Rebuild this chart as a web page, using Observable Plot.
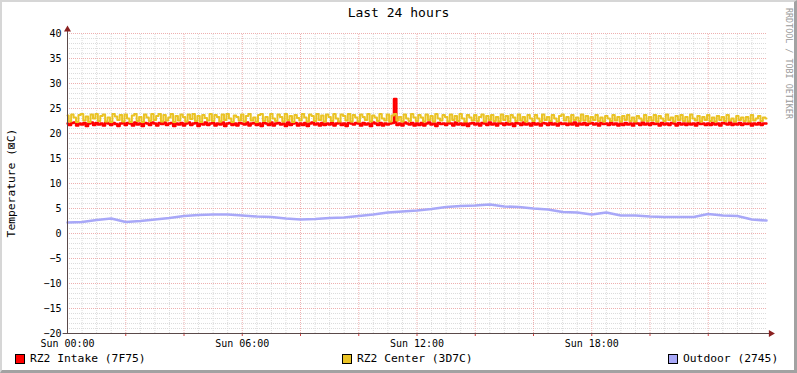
<!DOCTYPE html>
<html><head><meta charset="utf-8">
<script src="https://cdn.jsdelivr.net/npm/d3@7"></script>
<script src="https://cdn.jsdelivr.net/npm/@observablehq/plot@0.6"></script>
<style>
html,body{margin:0;padding:0;background:#fff;}
#frame{position:relative;width:797px;height:373px;background:#fff;overflow:hidden;font-family:"DejaVu Sans Mono",monospace;color:#000;}
#frame::after{content:"";position:absolute;left:0;top:0;width:797px;height:373px;box-sizing:border-box;border-top:2px solid #d6d6d6;border-left:2px solid #d6d6d6;border-right:3px solid #a2a2a2;border-bottom:3px solid #a2a2a2;pointer-events:none;}
#title{position:absolute;top:5px;left:0;width:797px;text-align:center;font-size:13px;line-height:16px;}
#chart{position:absolute;top:22px;left:0;}
#chart svg{background:transparent;overflow:visible;}
#ylabel{position:absolute;left:11px;top:183px;font-size:11.3px;line-height:13px;transform:translate(-50%,-50%) rotate(-90deg);white-space:nowrap;}
#credit{position:absolute;left:784px;top:8px;font-size:8.4px;line-height:10px;color:#9a9a9a;writing-mode:vertical-rl;white-space:nowrap;}
.leg{position:absolute;top:352px;height:13px;font-size:11.3px;line-height:13px;white-space:nowrap;display:flex;align-items:center;}
.sw{display:inline-block;width:8px;height:8px;border:1px solid #000;margin-right:5px;}
</style>
</head><body>
<div id="frame">
  <div id="title"></div>
  <div id="chart"></div>
  <div id="ylabel"></div>
  <div id="credit"></div>
  <div id="legend"></div>
</div>
<script>
const titleText = "Last 24 hours";
const yLabelText = "Temperature (⊠C)";
const creditText = "RRDTOOL / TOBI OETIKER";
const seriesNames = ["RZ2 Intake (7F75)", "RZ2 Center (3D7C)", "Outdoor (2745)"];
const seriesColors = ["#ff0000", "#eac325", "#a8a8f8"];
const legendLeft = [15, 342, 668];

const xDomain = [0, 24];
const yDomain = [-20, 40];
const yTicks = [-20, -15, -10, -5, 0, 5, 10, 15, 20, 25, 30, 35, 40];
const xTickHours = [0, 6, 12, 18];
const xTickLabels = ["Sun 00:00", "Sun 06:00", "Sun 12:00", "Sun 18:00"];

// 5-minute samples, one row per hour (00:00 .. 24:00)
const intakeTemps = [
22.0,21.7,22.1,22.2,21.6,22.0,21.8,22.1,21.5,22.0,22.2,21.7,
22.1,21.8,22.0,21.6,22.2,22.0,21.7,22.1,21.9,21.5,22.0,22.1,
21.7,22.1,22.0,21.6,22.2,21.8,22.0,21.5,22.1,22.0,21.7,22.2,
22.0,21.6,22.1,21.9,22.2,21.7,22.0,22.1,21.5,22.0,21.8,22.1,
21.6,22.0,22.2,21.7,22.0,22.1,21.5,22.0,21.8,22.2,21.7,22.0,
22.1,21.6,22.0,21.8,22.2,21.5,22.0,22.1,21.7,22.0,21.6,22.1,
22.0,21.8,22.2,21.6,22.0,22.1,21.7,22.0,21.5,22.1,22.0,21.7,
22.2,21.6,22.0,22.1,21.8,22.0,21.5,22.2,21.7,22.0,22.1,21.6,
22.0,21.7,22.1,21.5,22.0,22.2,21.8,22.0,21.6,22.1,21.7,22.0,
21.8,22.1,21.6,22.0,22.2,21.7,22.0,21.5,22.1,22.0,21.8,22.1,
22.0,21.6,22.1,21.8,22.0,21.5,22.2,22.0,21.7,22.1,21.6,22.0,
21.8,22.0,22.1,26.9,21.7,22.0,21.6,22.2,22.0,21.8,22.1,21.6,
22.0,21.7,22.1,21.6,22.0,22.2,21.8,22.0,21.5,22.1,21.9,22.0,
21.7,22.1,22.0,21.6,22.2,21.8,22.0,21.7,22.1,21.5,22.0,22.1,
21.8,22.0,21.6,22.1,22.0,21.7,22.2,21.8,22.0,21.6,22.1,22.0,
21.7,22.1,21.8,22.0,21.5,22.1,22.0,21.7,22.2,21.8,22.0,21.6,
22.1,21.8,22.0,21.6,22.1,22.0,21.7,22.2,21.8,22.0,21.6,22.1,
21.9,22.0,21.7,22.1,21.8,22.2,21.6,22.0,21.8,22.1,21.7,22.0,
22.1,21.8,22.0,21.6,22.1,21.9,22.0,21.7,22.2,21.8,22.0,21.6,
22.0,21.7,22.1,21.8,22.0,21.6,22.1,22.0,21.7,22.2,21.8,22.0,
21.7,22.1,21.9,22.0,21.6,22.1,21.8,22.0,21.7,22.1,22.0,21.6,
22.1,21.8,22.0,21.7,22.2,21.8,22.0,21.6,22.1,21.9,22.0,21.7,
22.0,21.7,22.1,21.8,22.0,21.6,22.1,22.0,21.8,22.2,21.7,22.0,
21.8,22.1,21.7,22.0,21.9,22.1,21.6,22.0,21.8,22.1,21.7,22.0,
22.0];

const centerTemps = [
23.6,22.4,23.8,23.2,22.3,23.7,23.9,22.6,23.4,22.3,23.8,23.0,
23.9,22.5,23.5,23.8,22.4,23.2,22.3,23.9,23.4,22.7,23.7,22.4,
23.8,23.0,22.3,23.6,23.9,22.5,23.3,22.3,23.8,23.2,22.5,23.9,
22.7,23.5,23.9,22.4,23.7,22.6,23.2,23.9,22.3,23.5,22.6,23.8,
23.3,22.4,23.8,22.9,23.9,22.5,23.5,22.3,23.7,23.1,22.6,23.9,
22.5,23.7,23.3,22.4,23.8,22.7,23.9,23.0,22.3,23.6,23.3,22.6,
23.8,22.4,23.5,23.9,22.6,23.2,22.3,23.7,23.9,22.5,23.3,22.4,
23.9,23.0,22.5,23.8,23.3,22.4,23.9,22.7,23.5,22.3,23.7,23.1,
22.6,23.9,23.2,22.4,23.8,23.5,22.5,23.9,22.7,23.6,22.4,23.8,
23.3,22.5,23.9,23.0,22.4,23.8,23.5,22.6,23.9,22.4,23.7,23.2,
22.4,23.8,23.3,22.7,23.9,22.4,23.6,23.2,22.5,23.9,23.0,22.6,
23.8,22.4,23.6,23.9,22.6,23.3,22.4,23.8,23.0,22.5,23.9,23.2,
22.5,23.7,23.2,22.4,23.8,22.7,23.5,22.4,23.9,23.0,22.6,23.7,
23.3,22.4,23.8,22.7,23.5,22.5,23.9,23.0,22.4,23.7,23.2,22.6,
23.7,22.5,23.3,23.8,22.4,23.5,22.7,23.7,22.5,23.3,22.4,23.8,
22.7,23.5,22.4,23.7,23.2,22.5,23.8,22.6,23.3,22.4,23.7,23.0,
22.5,23.7,23.0,22.4,23.8,22.7,23.3,22.5,23.7,23.0,22.4,23.5,
23.8,22.6,23.3,22.4,23.7,22.7,23.2,22.5,23.8,22.6,23.5,22.4,
23.3,22.7,23.7,22.5,23.2,22.4,23.5,23.0,22.5,23.7,22.6,23.3,
22.4,23.5,22.7,23.7,22.5,23.2,22.4,23.5,23.0,22.6,23.7,22.5,
23.3,22.6,23.7,22.4,23.5,23.0,22.5,23.8,22.7,23.2,22.4,23.5,
22.7,23.7,22.5,23.3,22.4,23.8,23.0,22.6,23.5,22.4,23.3,22.7,
23.7,22.5,23.2,22.4,23.5,22.7,23.3,22.5,23.7,22.6,23.0,22.4,
23.5,22.7,23.2,22.5,23.3,22.4,23.7,22.6,23.0,23.5,22.5,23.2,
23.0];

// 30-minute samples (00:00 .. 24:00)
const outdoorTemps = [
2.2,2.3,2.7,3.0,2.3,2.5,2.8,3.1,3.5,3.7,3.8,3.8,
3.6,3.4,3.3,3.0,2.8,2.9,3.1,3.2,3.5,3.8,4.2,4.4,
4.6,4.9,5.3,5.5,5.6,5.8,5.4,5.3,5.0,4.8,4.3,4.2,
3.8,4.2,3.6,3.6,3.4,3.3,3.3,3.3,3.9,3.6,3.5,2.8,
2.6];

const intakeStepMin = 5, centerStepMin = 5, outdoorStepMin = 30;
const toRows = (arr, stepMin) => arr.map((v, i) => ({h: i * stepMin / 60, v}));
const intake = toRows(intakeTemps, intakeStepMin);
const center = toRows(centerTemps, centerStepMin);
const outdoor = toRows(outdoorTemps, outdoorStepMin);

const minorY = d3.range(yDomain[0] + 1, yDomain[1]).filter(v => v % 5 !== 0);
const majorY = yTicks.filter(v => v > yDomain[0]);
const minorX = d3.range(0.5, xDomain[1], 0.5).filter(v => v % 2 !== 0);
const majorX = d3.range(2, xDomain[1], 2);
const tickLabelMap = new Map(xTickHours.map((h, i) => [h, xTickLabels[i]]));

const axisColor = "#5a4a4a", arrowColor = "#8b2020";
const yAxisTop = yDomain[1] + 0.8;
const xAxisLeft = xDomain[0] - 0.15, xAxisRight = xDomain[1] + 0.15;

const gridMinor = {stroke: "#dcdcdc", strokeDasharray: "1,1", strokeWidth: 1};
const gridMajor = {stroke: "#eeb0b0", strokeDasharray: "1,1", strokeWidth: 1};

const chart = Plot.plot({
  width: 797, height: 326,
  marginLeft: 67, marginRight: 31, marginTop: 11, marginBottom: 15,
  style: {fontFamily: "DejaVu Sans Mono", fontSize: "10px", background: "transparent", color: "#000"},
  x: {domain: xDomain},
  y: {domain: yDomain},
  marks: [
    Plot.ruleY(minorY, gridMinor),
    Plot.ruleX(minorX, {...gridMinor, y1: yDomain[0], y2: yDomain[1]}),
    Plot.ruleY(majorY, gridMajor),
    Plot.ruleX(majorX, {...gridMajor, y1: yDomain[0], y2: yDomain[1]}),
    Plot.line(intake, {x: "h", y: "v", stroke: seriesColors[0], strokeWidth: 2.4, curve: "step"}),
    Plot.line(center, {x: "h", y: "v", stroke: seriesColors[1], strokeWidth: 2, curve: "step"}),
    Plot.line(outdoor, {x: "h", y: "v", stroke: seriesColors[2], strokeWidth: 2.6, curve: "linear"}),
    Plot.axisY(yTicks, {tickSize: 0, tickPadding: 6, label: null, fontSize: 10}),
    Plot.axisX(majorX, {tickSize: 3, tickPadding: 0, stroke: "#d04040", tickFormat: () => "", label: null}),
    Plot.axisX(xTickHours, {tickSize: 0, tickPadding: 6, tickFormat: d => tickLabelMap.get(d), label: null, fontSize: 10}),
    Plot.ruleX([xDomain[0]], {y1: yDomain[0], y2: yAxisTop, stroke: axisColor, strokeWidth: 1}),
    Plot.ruleY([yDomain[0]], {x1: xAxisLeft, x2: xAxisRight, stroke: axisColor, strokeWidth: 1}),
    Plot.dot([xDomain[0]], {x: d => d, y: yAxisTop, symbol: "triangle", r: 2.6, fill: arrowColor, stroke: null}),
    Plot.dot([yDomain[0]], {x: xAxisRight, y: d => d, symbol: "triangle", r: 2.6, rotate: 90, fill: arrowColor, stroke: null})
  ]
});
document.getElementById("chart").appendChild(chart);
document.getElementById("title").textContent = titleText;
document.getElementById("ylabel").textContent = yLabelText;
document.getElementById("credit").textContent = creditText;
const legend = document.getElementById("legend");
seriesNames.forEach((name, i) => {
  const item = document.createElement("div");
  item.className = "leg";
  item.style.left = legendLeft[i] + "px";
  const sw = document.createElement("span");
  sw.className = "sw";
  sw.style.background = seriesColors[i];
  item.appendChild(sw);
  item.appendChild(document.createTextNode(name));
  legend.appendChild(item);
});
</script>
</body></html>
